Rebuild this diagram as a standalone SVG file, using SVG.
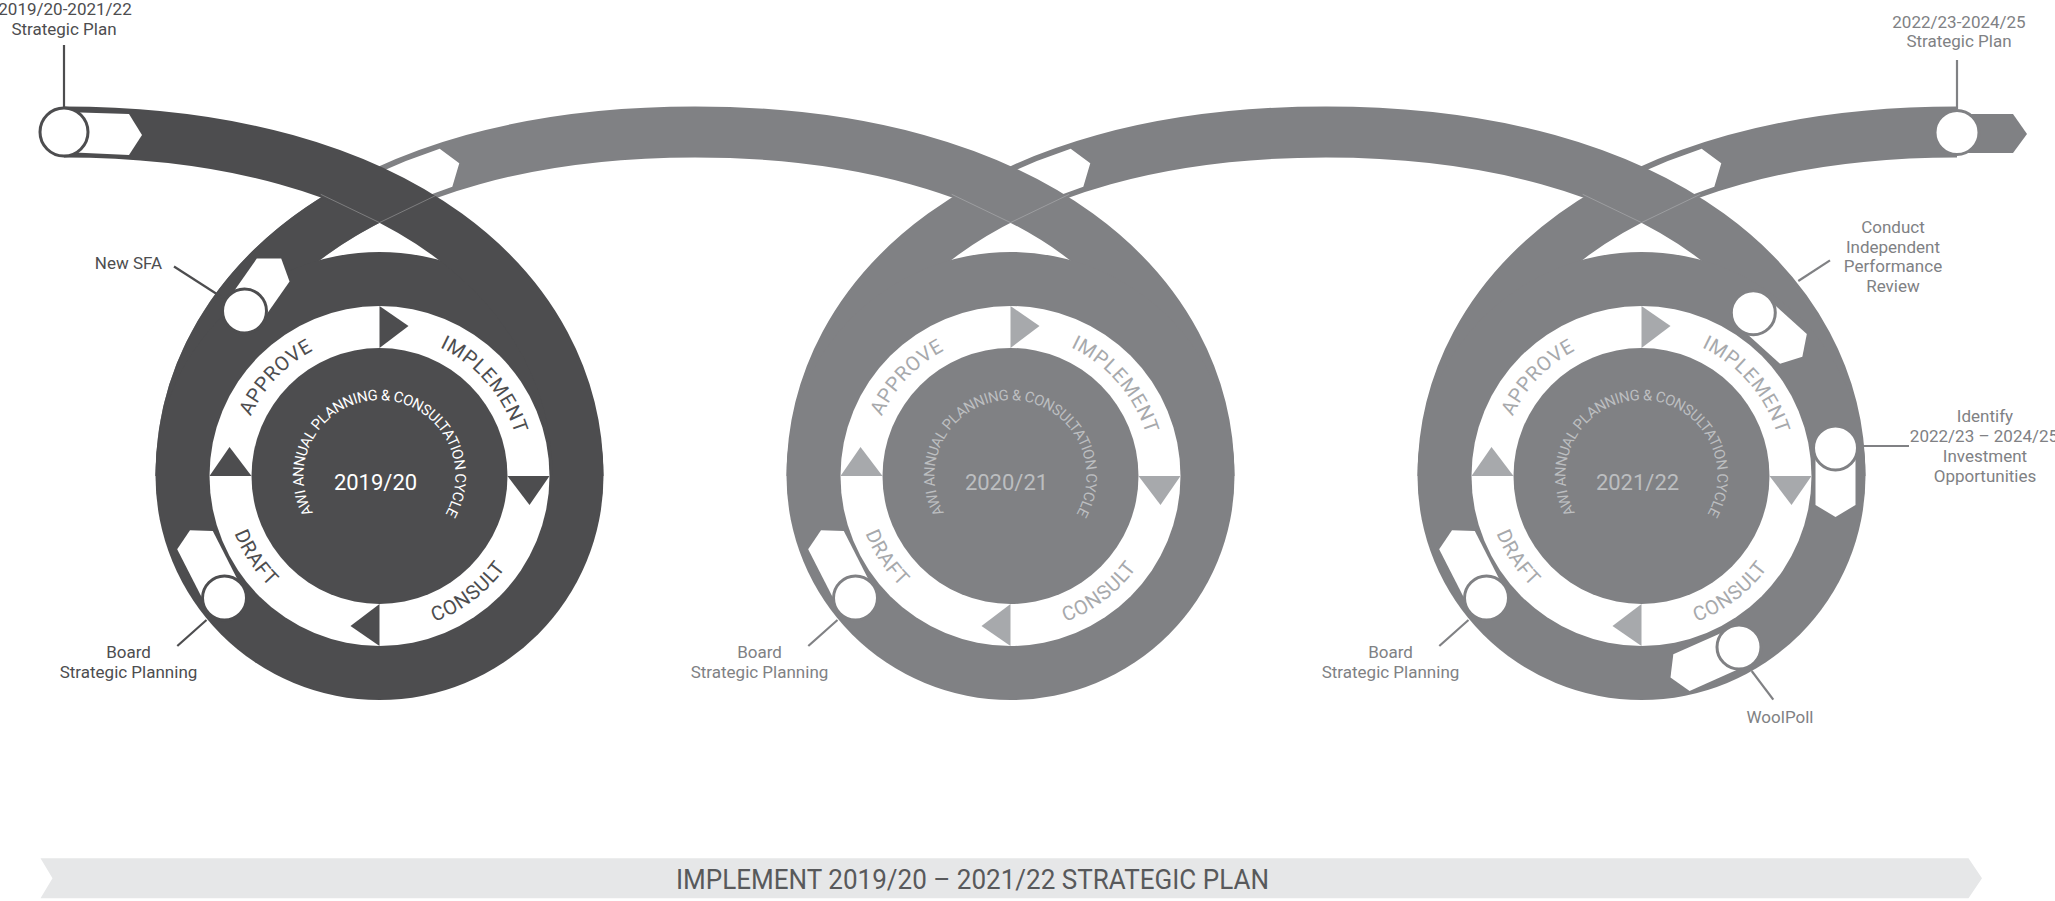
<svg xmlns="http://www.w3.org/2000/svg" width="2055" height="901" viewBox="0 0 2055 901">
<style>
text { font-family: Roboto, "DejaVu Sans", "Liberation Sans", sans-serif; }
.lbl { font-size: 17px; text-anchor: middle; }
.d { fill: #4d4d4f; }
.g { fill: #808184; }
.rib { fill: none; stroke-width: 51; stroke-linecap: butt; }
.ring { font-size: 20px; letter-spacing: 0.7px; text-anchor: middle; }
.cyc { font-size: 14.8px; letter-spacing: -0.45px; text-anchor: middle; }
.yr { font-size: 22px; text-anchor: middle; }
.chev { fill: #ffffff; }
.lead { fill: none; stroke-width: 2.2; }
.node { fill: #ffffff; stroke-width: 3; }
.seam { fill: none; stroke-width: 0.8; }
</style>
<defs>
<path id="pTop" d="M0,142 A142,142 0 1 1 0,-142 A142,142 0 1 1 0,142"/>
<path id="pBot" d="M0,-156 A156,156 0 1 0 0,156 A156,156 0 1 0 0,-156"/>
<path id="pIn" d="M0,76 A76,76 0 1 1 0,-76 A76,76 0 1 1 0,76"/>
<polygon id="tri" points="0,-170 29,-150 0,-128"/>
<polygon id="archChev" points="-72,-16 -36,-19 0,-20 14,0 0,20 -36,21 -72,24"/>
</defs>

<g id="connectors">
  <path class="rib" stroke="#808184" d="M1443,476 C1443,290 1621,132 1957,132"/>
  <polygon fill="#808184" points="1957,114 2013,114 2027,134 2013,153 1957,153"/>
  <use href="#archChev" class="chev" transform="translate(1708,167.7) rotate(-18.4)"/>
  <path class="rib" stroke="#808184" d="M812,476 C812,290 990,132 1326,132 C1662,132 1840,290 1840,476"/>
  <use href="#archChev" class="chev" transform="translate(1077,167.7) rotate(-18.4)"/>
  <path class="rib" stroke="#808184" d="M181,476 C181,290 359,132 695,132 C1031,132 1209,290 1209,476"/>
  <use href="#archChev" class="chev" transform="translate(446,167.7) rotate(-18.4)"/>
</g>

<g id="loop-2019-20">
  <path class="rib" stroke="#4d4d4f" d="M181,476 C181,361.2 248.7,257.1 379.6,194.2"/>
  <circle cx="379.5" cy="476" r="224" fill="#4d4d4f"/>
  <path class="rib" stroke="#4d4d4f" d="M64,132 C400,132 578,290 578,476"/>
  <path class="seam" stroke="#8a8a8c" d="M320.7,194.3 L379.5,222.6 L438.3,194.3"/>
  <g transform="translate(379.5,476)">
    <circle r="170" fill="#ffffff"/>
    <circle r="128" fill="#4d4d4f"/>
    <g fill="#4d4d4f">
      <use href="#tri"/><use href="#tri" transform="rotate(90)"/><use href="#tri" transform="rotate(180)"/><use href="#tri" transform="rotate(270)"/>
    </g>
    <g class="ring" fill="#4d4d4f">
      <text><textPath href="#pTop" startOffset="330.9">APPROVE</textPath></text>
      <text><textPath href="#pTop" startOffset="567.5">IMPLEMENT</textPath></text>
      <text><textPath href="#pBot" startOffset="336">DRAFT</textPath></text>
      <text><textPath href="#pBot" startOffset="591.6">CONSULT</textPath></text>
    </g>
    <text class="cyc" fill="#ffffff"><textPath href="#pIn" startOffset="238.8">AWI ANNUAL PLANNING &amp; CONSULTATION CYCLE</textPath></text>
    <text class="yr" x="-4" y="13.5" fill="#ffffff">2019/20</text>
  </g>
</g>

<g id="loop-2020-21">
  <circle cx="1010.5" cy="476" r="224" fill="#808184"/>
  <path class="seam" stroke="#a3a4a7" d="M951.7,194.3 L1010.5,222.6 L1069.3,194.3"/>
  <g transform="translate(1010.5,476)">
    <circle r="170" fill="#ffffff"/>
    <circle r="128" fill="#808184"/>
    <g fill="#a7a9ac">
      <use href="#tri"/><use href="#tri" transform="rotate(90)"/><use href="#tri" transform="rotate(180)"/><use href="#tri" transform="rotate(270)"/>
    </g>
    <g class="ring" fill="#a7a9ac">
      <text><textPath href="#pTop" startOffset="330.9">APPROVE</textPath></text>
      <text><textPath href="#pTop" startOffset="567.5">IMPLEMENT</textPath></text>
      <text><textPath href="#pBot" startOffset="336">DRAFT</textPath></text>
      <text><textPath href="#pBot" startOffset="591.6">CONSULT</textPath></text>
    </g>
    <text class="cyc" fill="#bcbec0"><textPath href="#pIn" startOffset="238.8">AWI ANNUAL PLANNING &amp; CONSULTATION CYCLE</textPath></text>
    <text class="yr" x="-4" y="13.5" fill="#bcbec0">2020/21</text>
  </g>
</g>

<g id="loop-2021-22">
  <circle cx="1641.5" cy="476" r="224" fill="#808184"/>
  <path class="seam" stroke="#a3a4a7" d="M1582.7,194.3 L1641.5,222.6 L1700.3,194.3"/>
  <g transform="translate(1641.5,476)">
    <circle r="170" fill="#ffffff"/>
    <circle r="128" fill="#808184"/>
    <g fill="#a7a9ac">
      <use href="#tri"/><use href="#tri" transform="rotate(90)"/><use href="#tri" transform="rotate(180)"/><use href="#tri" transform="rotate(270)"/>
    </g>
    <g class="ring" fill="#a7a9ac">
      <text><textPath href="#pTop" startOffset="330.9">APPROVE</textPath></text>
      <text><textPath href="#pTop" startOffset="567.5">IMPLEMENT</textPath></text>
      <text><textPath href="#pBot" startOffset="336">DRAFT</textPath></text>
      <text><textPath href="#pBot" startOffset="591.6">CONSULT</textPath></text>
    </g>
    <text class="cyc" fill="#bcbec0"><textPath href="#pIn" startOffset="238.8">AWI ANNUAL PLANNING &amp; CONSULTATION CYCLE</textPath></text>
    <text class="yr" x="-4" y="13.5" fill="#bcbec0">2021/22</text>
  </g>
</g>

<g id="node-start">
  <polygon class="chev" points="64,112 129,114 142,135 129,155 64,152"/>
  <line class="lead" x1="64" y1="45" x2="64" y2="107" stroke="#4d4d4f"/>
  <circle class="node" cx="64" cy="132" r="24" stroke="#4d4d4f"/>
  <text class="lbl d" x="65" y="15">2019/20-2021/22</text>
  <text class="lbl d" x="64" y="35">Strategic Plan</text>
</g>

<g id="node-new-sfa">
  <polygon class="chev" transform="translate(244.5,311) rotate(-55)" points="0,-20 50,-20 64,0 50,20 0,20"/>
  <circle class="node" cx="244.5" cy="311" r="22" stroke="#4d4d4f"/>
  <line class="lead" x1="174" y1="266.5" x2="223" y2="298" stroke="#4d4d4f"/>
  <text class="lbl d" x="128.5" y="268.5">New SFA</text>
</g>

<g id="node-board-2019-20">
  <polygon class="chev" transform="translate(224.5,598) rotate(-117)" points="0,-20 65,-20 76,0 65,20 0,20"/>
  <circle class="node" cx="224.5" cy="598" r="22" stroke="#4d4d4f"/>
  <line class="lead" x1="206.5" y1="620" x2="177.3" y2="646" stroke="#4d4d4f"/>
  <text class="lbl d" x="128.5" y="658">Board</text>
  <text class="lbl d" x="128.5" y="678">Strategic Planning</text>
</g>

<g id="node-board-2020-21">
  <polygon class="chev" transform="translate(855.5,598) rotate(-117)" points="0,-20 65,-20 76,0 65,20 0,20"/>
  <circle class="node" cx="855.5" cy="598" r="22" stroke="#808184"/>
  <line class="lead" x1="837.5" y1="620" x2="808.3" y2="646" stroke="#808184"/>
  <text class="lbl g" x="759.5" y="658">Board</text>
  <text class="lbl g" x="759.5" y="678">Strategic Planning</text>
</g>

<g id="node-board-2021-22">
  <polygon class="chev" transform="translate(1486.5,598) rotate(-117)" points="0,-20 65,-20 76,0 65,20 0,20"/>
  <circle class="node" cx="1486.5" cy="598" r="22" stroke="#808184"/>
  <line class="lead" x1="1468.5" y1="620" x2="1439.3" y2="646" stroke="#808184"/>
  <text class="lbl g" x="1390.5" y="658">Board</text>
  <text class="lbl g" x="1390.5" y="678">Strategic Planning</text>
</g>

<g id="node-performance-review">
  <polygon class="chev" transform="translate(1753.3,312.7) rotate(42)" points="0,-20 54,-20 66,0 54,20 0,20"/>
  <circle class="node" cx="1753.3" cy="312.7" r="22" stroke="#808184"/>
  <line class="lead" x1="1798.3" y1="281" x2="1830" y2="260.4" stroke="#808184"/>
  <text class="lbl g" x="1893" y="233">Conduct</text>
  <text class="lbl g" x="1893" y="252.5">Independent</text>
  <text class="lbl g" x="1893" y="272">Performance</text>
  <text class="lbl g" x="1893" y="291.5">Review</text>
</g>

<g id="node-investment">
  <polygon class="chev" transform="translate(1835.5,448) rotate(90)" points="0,-20 57,-20 69,0 57,20 0,20"/>
  <circle class="node" cx="1835.5" cy="448" r="22" stroke="#808184"/>
  <line class="lead" x1="1859" y1="446" x2="1909" y2="446" stroke="#808184"/>
  <text class="lbl g" x="1985" y="422">Identify</text>
  <text class="lbl g" x="1984" y="442" font-size="15.6">2022/23 – 2024/25</text>
  <text class="lbl g" x="1985" y="462">Investment</text>
  <text class="lbl g" x="1985" y="482">Opportunities</text>
</g>

<g id="node-woolpoll">
  <polygon class="chev" transform="translate(1739,647) rotate(156)" points="0,-20 63,-20 75,0 63,20 0,20"/>
  <circle class="node" cx="1739" cy="647" r="22" stroke="#808184"/>
  <line class="lead" x1="1751.7" y1="671" x2="1773.3" y2="699.6" stroke="#808184"/>
  <text class="lbl g" x="1780" y="723">WoolPoll</text>
</g>

<g id="node-end">
  <line class="lead" x1="1957" y1="60" x2="1957" y2="109" stroke="#808184"/>
  <circle class="node" cx="1957" cy="132.5" r="22" stroke="#808184"/>
  <text class="lbl g" x="1959" y="27.5">2022/23-2024/25</text>
  <text class="lbl g" x="1959" y="47">Strategic Plan</text>
</g>

<g id="banner">
  <polygon fill="#e6e7e8" points="40.5,858.3 1968.5,858.3 1982,878.3 1968.5,898.3 40.5,898.3 52.5,878.3"/>
  <text x="972.5" y="888.5" font-size="27" fill="#58595b" text-anchor="middle" textLength="593" lengthAdjust="spacingAndGlyphs">IMPLEMENT 2019/20 – 2021/22 STRATEGIC PLAN</text>
</g>
</svg>
